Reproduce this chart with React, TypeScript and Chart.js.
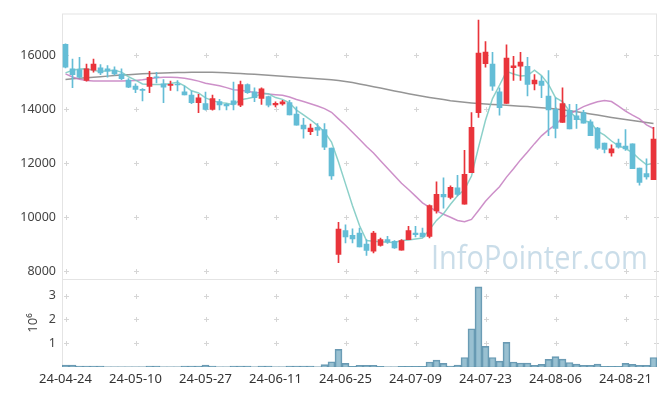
import React, { useEffect, useRef } from 'react';
import { Chart, registerables } from 'chart.js';
Chart.register(...registerables);

const dates = [
  '24-04-24','24-04-25','24-04-26','24-04-29','24-04-30','24-05-02','24-05-03','24-05-07','24-05-08','24-05-09',
  '24-05-10','24-05-13','24-05-14','24-05-16','24-05-17','24-05-20','24-05-21','24-05-22','24-05-23','24-05-24',
  '24-05-27','24-05-28','24-05-29','24-05-30','24-05-31','24-06-03','24-06-04','24-06-05','24-06-07','24-06-10',
  '24-06-11','24-06-12','24-06-13','24-06-14','24-06-17','24-06-18','24-06-19','24-06-20','24-06-21','24-06-24',
  '24-06-25','24-06-26','24-06-27','24-06-28','24-07-01','24-07-02','24-07-03','24-07-04','24-07-05','24-07-08',
  '24-07-09','24-07-10','24-07-11','24-07-12','24-07-15','24-07-16','24-07-17','24-07-18','24-07-19','24-07-22',
  '24-07-23','24-07-24','24-07-25','24-07-26','24-07-29','24-07-30','24-07-31','24-08-01','24-08-02','24-08-05',
  '24-08-06','24-08-07','24-08-08','24-08-09','24-08-12','24-08-13','24-08-14','24-08-16','24-08-19','24-08-20',
  '24-08-21','24-08-22','24-08-23','24-08-26','24-08-27',
];

const opens = [
  16400,15486,15460,15057,15440,15523,15486,15440,15300,15070,
  14850,14727,14837,15180,14935,14875,14910,14642,14520,14240,
  14200,13990,14275,14175,14300,14140,14910,14642,14395,14460,
  14155,14190,14240,13810,13405,13163,13320,13235,12550,8612,
  9500,9320,9405,9000,8735,8943,9163,9100,8770,9163,
  9405,9405,9283,10227,10837,10727,11082,10470,11645,13870,
  15680,15670,14642,14213,15534,15585,15585,14935,15035,14485,
  13993,13500,13955,13750,13870,13530,13295,12734,12378,12734,
  12624,12710,11816,11607,11387,
];
const highs = [
  16420,15853,15915,15670,15853,15645,15607,15560,15486,15130,
  14935,14763,15400,15365,15093,15035,15057,14850,14670,14545,
  14630,14520,14360,14200,15000,15035,14935,14790,14790,14485,
  14265,14325,14325,14080,13660,13440,13465,13465,12550,9800,
  9713,9565,9590,9160,9467,9222,9283,9126,9163,9650,
  9650,9590,10450,11300,11450,11156,11548,12466,13870,17295,
  16500,16100,14790,16380,15950,16100,15915,15277,15218,15424,
  14420,14790,14175,14175,13955,13604,13320,12734,12670,12890,
  13236,12710,11816,12158,13320,
];
const lows = [
  15520,14789,15150,15035,15365,15277,15180,15255,15093,14790,
  14605,14300,14605,14970,14240,14690,14670,14520,14200,13870,
  13955,13955,13970,13970,13970,14090,14580,14275,14175,14080,
  14080,14140,13785,13405,12920,13050,13015,12490,11390,8305,
  9040,9040,8890,8575,8670,8917,9016,8830,8770,9163,
  9260,9260,9222,10140,10322,10670,10777,10470,11645,13690,
  15550,14690,13770,14213,15057,15057,14485,14705,14420,13017,
  12930,13500,13260,13285,13480,13017,12503,12378,12257,12550,
  12466,11790,11180,11400,11387,
];
const closes = [
  15550,15277,15180,15486,15670,15340,15400,15300,15130,14815,
  14727,14690,15180,15160,14815,14910,14890,14520,14240,14420,
  13990,14385,14155,14115,14175,14910,14605,14420,14750,14140,
  14215,14265,13785,13405,13260,13295,13220,12587,11520,9550,
  9260,9185,8890,8760,9405,9163,9075,8855,9126,9500,
  9346,9260,10420,10837,10740,11095,10837,11585,13320,16073,
  16110,14850,14055,15890,15597,15745,14910,15070,14875,13970,
  13285,14200,13260,13604,13480,13017,12550,12503,12525,12587,
  12525,11790,11280,11486,12890,
];
// volume in millions of shares
const volumes = [
  0.08,0.08,0.04,0.04,0.04,0.04,0.01,0.01,0.01,0.01,
  0.01,0.01,0.04,0.04,0.01,0.01,0.01,0.04,0.04,0.04,
  0.08,0.04,0.01,0.01,0.04,0.04,0.04,0.01,0.04,0.04,
  0.01,0.01,0.04,0.04,0.04,0.04,0.01,0.10,0.22,0.74,
  0.15,0.03,0.07,0.07,0.07,0.03,0.01,0.01,0.03,0.03,
  0.03,0.03,0.21,0.29,0.15,0.04,0.08,0.40,1.61,3.37,
  0.87,0.40,0.25,1.04,0.21,0.17,0.17,0.07,0.11,0.32,
  0.44,0.33,0.19,0.12,0.07,0.07,0.12,0.03,0.03,0.03,
  0.15,0.11,0.07,0.07,0.40,
];
const ma5 = [
  15340,15440,15480,15490,15433,15391,15415,15439,15368,15197,
  15074,14932,14908,14914,14914,14951,14991,14859,14675,14596,
  14412,14311,14238,14213,14164,14348,14392,14445,14572,14565,
  14426,14358,14231,13962,13786,13602,13393,13153,12776,12034,
  11227,10420,9681,9129,9100,9081,9059,9052,9125,9144,
  9180,9217,9530,9873,10121,10470,10786,11019,11515,12582,
  13585,14388,14882,15396,15300,15227,15239,15442,15239,14914,
  14422,14280,13918,13664,13566,13512,13182,13031,12815,12636,
  12538,12386,12141,11934,11994,
];
const ma20 = [
  15303,15190,15100,15057,15035,15035,15035,15035,15035,15045,
  15057,15082,15120,15156,15180,15180,15167,15137,15094,15035,
  14957,14912,14861,14793,14718,14696,14657,14613,14594,14560,
  14534,14513,14443,14356,14278,14197,14114,14017,13881,13637,
  13401,13141,12878,12610,12371,12084,11808,11529,11248,11016,
  10773,10522,10354,10226,10100,9990,9871,9820,9910,10237,
  10579,10862,11121,11477,11787,12116,12408,12718,13006,13229,
  13426,13673,13815,13954,14091,14187,14272,14318,14278,14104,
  13925,13772,13633,13413,13278,
];
const ma120 = [
  15095,15120,15140,15160,15180,15200,15220,15240,15260,15275,
  15290,15305,15320,15330,15340,15345,15350,15355,15360,15360,
  15360,15360,15355,15345,15330,15315,15300,15290,15275,15255,
  15235,15215,15195,15175,15160,15140,15125,15105,15085,15060,
  15025,14980,14930,14880,14830,14780,14725,14670,14620,14570,
  14520,14475,14430,14390,14350,14310,14280,14250,14225,14205,
  14190,14170,14155,14140,14125,14105,14090,14070,14050,14025,
  14000,13970,13935,13900,13860,13815,13775,13735,13690,13650,
  13610,13575,13540,13500,13465,
];
const priceTicks = [8000, 10000, 12000, 14000, 16000];
const volumeTicks = [1, 2, 3];
const labelEvery = 10;
const watermark = 'InfoPointer.com';
const volumeUnit = '10\u2076';

const UP = '#e9343b';
const DOWN = '#64bdd6';
const FONT = '"Noto Sans", "DejaVu Sans", sans-serif';

const decor = {
  id: 'decor',
  beforeDatasetsDraw(chart: any) {
    const { ctx, chartArea, scales } = chart;
    const x = scales.x, y = scales.y, yv = scales.yv;
    ctx.save();
    // watermark (slightly condensed)
    const sx = 0.9;
    ctx.font = `100px "Open Sans", sans-serif`;
    const w100 = ctx.measureText(watermark).width * sx;
    const size = (100 * 217) / w100;
    ctx.save();
    ctx.font = `${size}px "Open Sans", sans-serif`;
    ctx.fillStyle = 'rgba(150,188,212,0.5)';
    ctx.textBaseline = 'alphabetic';
    ctx.translate(chartArea.right - 226, y.bottom - 10);
    ctx.scale(sx, 1);
    ctx.fillText(watermark, 0, 0);
    ctx.restore();
    // plus markers at grid intersections
    ctx.strokeStyle = '#d6d6d6';
    ctx.lineWidth = 1;
    const xs: number[] = [];
    for (let i = 0; i < dates.length; i += labelEvery) xs.push(Math.round(x.getPixelForValue(i)) + 0.5);
    xs.push(chartArea.right - 0.5);
    const ys: number[] = [];
    priceTicks.forEach((v) => ys.push(Math.round(y.getPixelForValue(v)) + 0.5));
    volumeTicks.forEach((v) => ys.push(Math.round(yv.getPixelForValue(v)) + 0.5));
    xs.forEach((px) => {
      ys.forEach((py) => {
        ctx.beginPath();
        ctx.moveTo(px - 2.5, py); ctx.lineTo(px + 2.5, py);
        ctx.moveTo(px, py - 2.5); ctx.lineTo(px, py + 2.5);
        ctx.stroke();
      });
    });
    // frames
    ctx.strokeStyle = '#e4e4e4';
    ctx.strokeRect(chartArea.left + 0.5, chartArea.top + 0.5, chartArea.right - chartArea.left - 1, chartArea.bottom - chartArea.top - 1);
    ctx.beginPath();
    ctx.moveTo(chartArea.left, Math.round(y.bottom) + 0.5);
    ctx.lineTo(chartArea.right, Math.round(y.bottom) + 0.5);
    ctx.stroke();
    // volume unit label
    ctx.fillStyle = '#444';
    ctx.font = `13px ${FONT}`;
    ctx.textAlign = 'center';
    ctx.textBaseline = 'middle';
    ctx.translate(33, (yv.top + yv.bottom) / 2);
    ctx.rotate(-Math.PI / 2);
    ctx.fillText(volumeUnit, 0, 0);
    ctx.restore();
  },
};

export default function App() {
  const ref = useRef<HTMLCanvasElement | null>(null);
  useEffect(() => {
    if (!ref.current) return;
    const candleColor = (c: any) => {
      const i = c.dataIndex;
      return closes[i] >= opens[i] ? UP : DOWN;
    };
    const chart = new Chart(ref.current, {
      type: 'bar',
      data: {
        labels: dates,
        datasets: [
          {
            type: 'line', label: 'MA5', data: ma5, yAxisID: 'y', borderColor: 'rgba(120,200,192,0.85)',
            borderWidth: 1.5, pointRadius: 0, tension: 0, order: 3,
          } as any,
          {
            type: 'line', label: 'MA20', data: ma20, yAxisID: 'y', borderColor: 'rgba(196,125,192,0.85)',
            borderWidth: 1.5, pointRadius: 0, tension: 0, order: 4,
          } as any,
          {
            type: 'line', label: 'MA120', data: ma120, yAxisID: 'y', borderColor: 'rgba(130,130,130,0.85)',
            borderWidth: 1.5, pointRadius: 0, tension: 0, order: 5,
          } as any,
          {
            type: 'bar', label: 'wick', data: lows.map((l, i) => [l, highs[i]]), yAxisID: 'y',
            backgroundColor: candleColor, barThickness: 1, grouped: false, order: 2, borderWidth: 0,
          } as any,
          {
            type: 'bar', label: 'body', data: opens.map((o, i) => [o, closes[i]]), yAxisID: 'y',
            backgroundColor: candleColor, barThickness: 5, minBarLength: 1, grouped: false, order: 1, borderWidth: 0,
          } as any,
          {
            type: 'bar', label: 'volume', data: volumes, yAxisID: 'yv',
            backgroundColor: 'rgba(110,165,190,0.7)', borderColor: 'rgba(80,135,165,0.85)',
            borderWidth: (c: any) => (volumes[c.dataIndex] < 0.03 ? 0 : 1),
            barPercentage: 1, categoryPercentage: 1, grouped: false, order: 6,
          } as any,
        ],
      },
      options: {
        animation: false,
        responsive: false,
        layout: { padding: { left: 0, right: 8, top: 10, bottom: 0 } },
        plugins: { legend: { display: false }, tooltip: { enabled: false } },
        scales: {
          x: {
            type: 'category',
            offset: true,
            grid: { display: false, drawTicks: false },
            border: { display: false },
            ticks: {
              autoSkip: false, maxRotation: 0, minRotation: 0, padding: 4,
              color: '#333', font: { size: 13, family: FONT },
              callback: (_v: any, i: number) => (i % labelEvery === 0 ? dates[i] : ''),
            },
            afterFit: (s: any) => { s.height = 29; },
          },
          yv: {
            type: 'linear', position: 'left', stack: 'panes', stackWeight: 89,
            min: 0, max: 3.71,
            grid: { display: false, drawTicks: false },
            border: { display: false },
            afterBuildTicks: (s: any) => { s.ticks = volumeTicks.map((v) => ({ value: v })); },
            ticks: {
              padding: 6, color: '#444', font: { size: 12.5, family: FONT },
              callback: (v: any) => String(v),
            },
            afterFit: (s: any) => { s.width = 62; },
          },
          y: {
            type: 'linear', position: 'left', stack: 'panes', stackWeight: 268,
            min: 7706, max: 17541,
            grid: { display: false, drawTicks: false },
            border: { display: false },
            afterBuildTicks: (s: any) => { s.ticks = priceTicks.map((v) => ({ value: v })); },
            ticks: { padding: 6, color: '#444', font: { size: 12.5, family: FONT }, callback: (v: any) => String(v) },
            afterFit: (s: any) => { s.width = 62; },
          },
        },
      } as any,
      plugins: [decor],
    });
    return () => chart.destroy();
  }, []);
  return (
    <div style={{ position: 'fixed', left: 0, top: 0, width: 665, height: 396, background: '#fff' }}>
      <canvas ref={ref} width={665} height={396} style={{ display: 'block' }} />
    </div>
  );
}
